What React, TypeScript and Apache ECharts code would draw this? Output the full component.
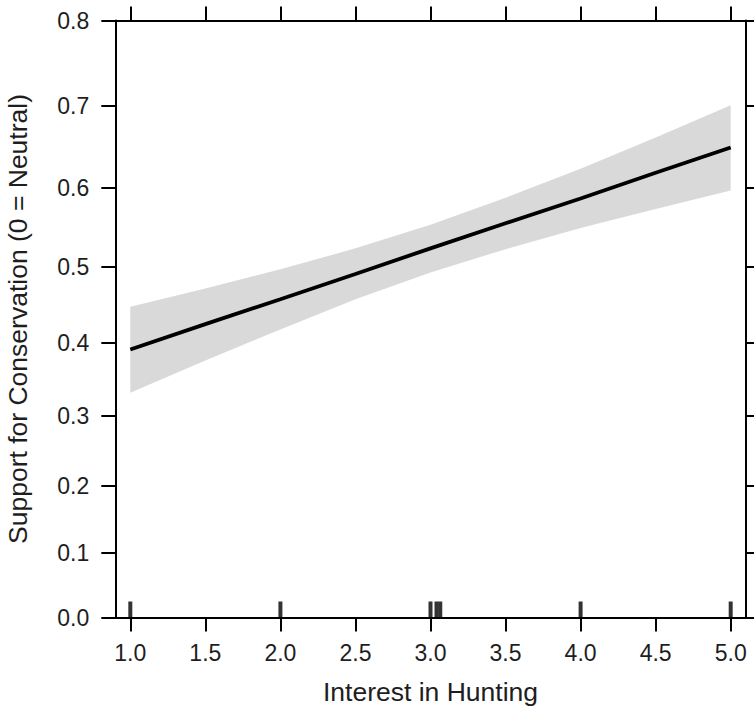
import React, { useEffect, useRef } from "react";
import * as echarts from "echarts";

// Data (y in response units)
const X_VALUES = [1, 1.5, 2, 2.5, 3, 3.5, 4, 4.5, 5];
const FIT = [0.391, 0.425, 0.458, 0.491, 0.524, 0.556, 0.587, 0.619, 0.65];
const UPPER = [0.448, 0.472, 0.497, 0.524, 0.554, 0.588, 0.624, 0.662, 0.701];
const LOWER = [0.332, 0.376, 0.418, 0.458, 0.493, 0.523, 0.55, 0.574, 0.597];
const RUG = [1, 2, 3, 3.04, 3.065, 4, 5];
const X_TICKS = [1, 1.5, 2, 2.5, 3, 3.5, 4, 4.5, 5];
const Y_TICKS = [0, 0.1, 0.2, 0.3, 0.4, 0.5, 0.6, 0.7, 0.8];
const X_TITLE = "Interest in Hunting";
const Y_TITLE = "Support for Conservation (0 = Neutral)";

// The vertical axis of the reference is drawn on a transformed scale
const K = 0.4;
const toT = (v: number) => Math.exp(K * v);
const fromT = (t: number) => Math.log(t) / K;

const FONT = "Liberation Sans, Arial, Helvetica, sans-serif";
const TXT = "#1e1e1e";

export default function App() {
  const ref = useRef<HTMLDivElement>(null);
  useEffect(() => {
    if (!ref.current) return;
    const chart = echarts.init(ref.current, undefined, { renderer: "svg" });
    const tTicks = Y_TICKS.map(toT);
    const axisLine = { show: true, lineStyle: { color: "#000", width: 2 } };
    const tick = (vals: number[]) => ({
      show: true,
      inside: false,
      length: 14,
      customValues: vals,
      lineStyle: { color: "#000", width: 2 },
    });
    const option: any = {
      animation: false,
      backgroundColor: "#fff",
      grid: {
        left: 115.3,
        right: 8.3,
        top: 20.5,
        bottom: 97.5,
        containLabel: false,
        outerBoundsMode: "none",
      },
      xAxis: [
        {
          type: "value",
          position: "bottom",
          min: 0.9,
          max: 5.1,
          z: 10,
          axisLine,
          axisTick: tick(X_TICKS),
          splitLine: { show: false },
          axisLabel: {
            customValues: X_TICKS,
            formatter: (v: number) => v.toFixed(1),
            margin: 24,
            fontSize: 23,
            fontFamily: FONT,
            color: TXT,
            showMinLabel: true,
            showMaxLabel: true,
          },
          name: X_TITLE,
          nameLocation: "middle",
          nameGap: 61,
          nameTextStyle: { fontSize: 26.5, fontFamily: FONT, color: TXT },
        },
        {
          type: "value",
          position: "top",
          min: 0.9,
          max: 5.1,
          z: 10,
          axisLine,
          axisTick: tick(X_TICKS),
          splitLine: { show: false },
          axisLabel: { show: false },
        },
      ],
      yAxis: [
        {
          type: "value",
          position: "left",
          min: toT(0),
          max: toT(0.8),
          z: 10,
          axisLine,
          axisTick: tick(tTicks),
          splitLine: { show: false },
          axisLabel: {
            customValues: tTicks,
            formatter: (t: number) => fromT(t).toFixed(1),
            margin: 26,
            fontSize: 23,
            fontFamily: FONT,
            color: TXT,
            showMinLabel: true,
            showMaxLabel: true,
          },
          name: Y_TITLE,
          nameLocation: "middle",
          nameGap: 84,
          nameTextStyle: { fontSize: 26.5, fontFamily: FONT, color: TXT },
        },
        {
          type: "value",
          position: "right",
          min: toT(0),
          max: toT(0.8),
          z: 10,
          axisLine,
          axisTick: tick(tTicks),
          splitLine: { show: false },
          axisLabel: { show: false },
        },
      ],
      series: [
        {
          type: "custom",
          name: "band",
          data: [0],
          silent: true,
          z: 2,
          renderItem: (_params: any, api: any) => {
            const up = X_VALUES.map((x, i) => api.coord([x, toT(UPPER[i])]));
            const lo = X_VALUES.map((x, i) => api.coord([x, toT(LOWER[i])])).reverse();
            return {
              type: "polygon",
              shape: { points: up.concat(lo) },
              style: { fill: "#d9d9d9", stroke: "none" },
            };
          },
        },
        {
          type: "line",
          name: "fit",
          data: X_VALUES.map((x, i) => [x, toT(FIT[i])]),
          symbol: "none",
          lineStyle: { color: "#000", width: 3.8 },
          z: 5,
        },
        {
          type: "scatter",
          name: "rug",
          data: RUG.map((x) => [x, toT(0)]),
          symbol: "rect",
          symbolSize: [4, 16],
          symbolOffset: [0, -8],
          itemStyle: { color: "#000" },
          clip: false,
          z: 6,
        },
      ],
    };
    chart.setOption(option);
    return () => chart.dispose();
  }, []);
  return (
    <div
      ref={ref}
      style={{ position: "absolute", left: 0, top: 0, width: 754, height: 715 }}
    />
  );
}
